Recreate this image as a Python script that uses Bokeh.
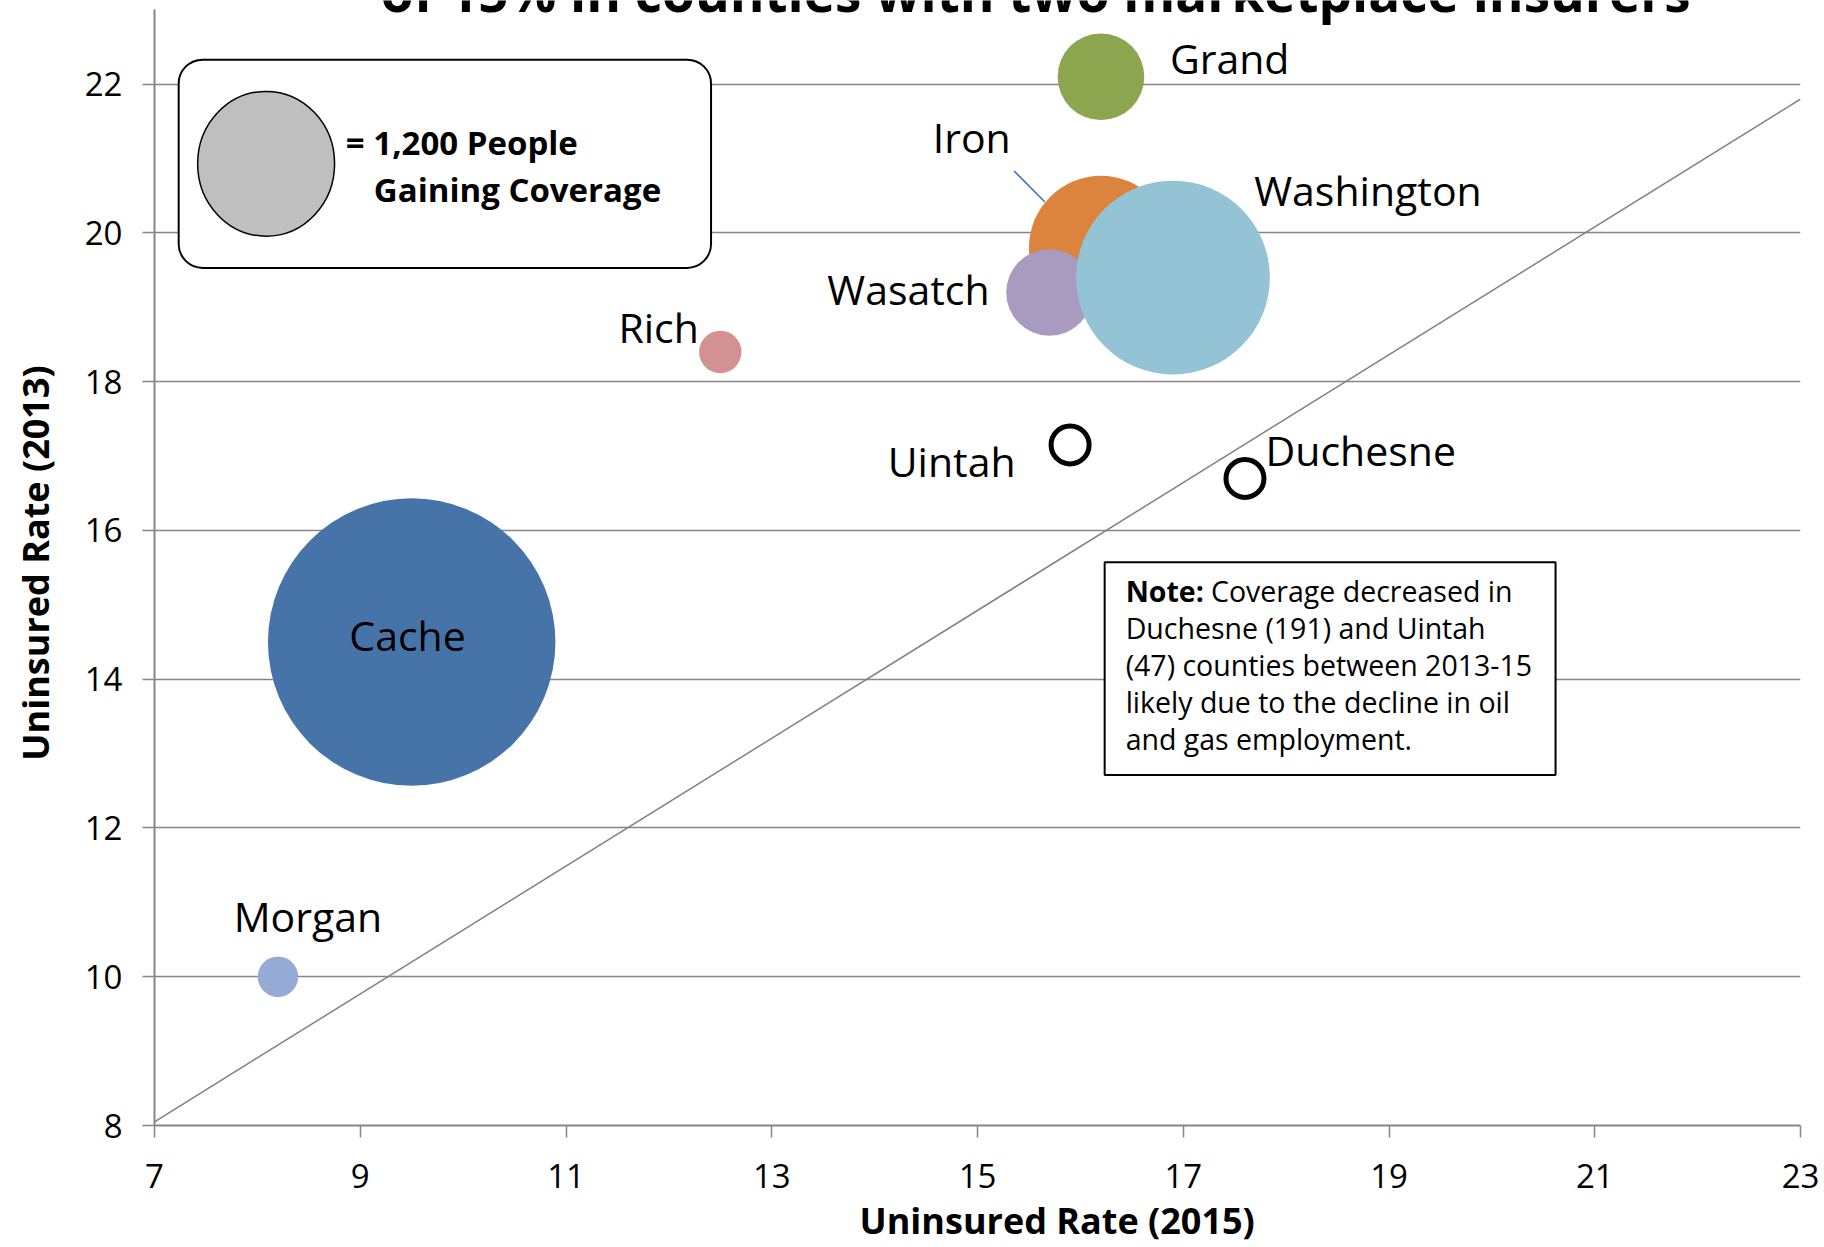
from bokeh.plotting import figure
from bokeh.models import ColumnDataSource, FixedTicker, BoxAnnotation, Label, Range1d, Title
from bokeh.core.properties import value
from bokeh.embed import file_html
from bokeh.resources import INLINE
import math

# ---------------- data ----------------
counties = ["Cache", "Morgan", "Rich", "Grand", "Iron", "Wasatch", "Washington"]
rate_2015 = [9.5, 8.2, 12.5, 16.2, 16.2, 15.7, 16.9]
rate_2013 = [14.5, 10.0, 18.4, 22.1, 19.8, 19.2, 19.4]
people_gained = [5060, 100, 110, 460, 1270, 460, 2300]
bubble_colors = ["#4674a8", "#95abd6", "#d49191", "#8ba64f", "#dc843e", "#a99bbf", "#93c3d4"]

decline_counties = ["Uintah", "Duchesne"]
decline_2015 = [15.9, 17.6]
decline_2013 = [17.15, 16.7]
decline_people = [47, 191]

# label anchor points
label_text = ["Cache", "Morgan", "Rich", "Grand", "Iron", "Wasatch", "Washington", "Uintah", "Duchesne"]
label_x = [9.46, 7.77, 11.51, 16.87, 14.565, 15.118, 17.69, 15.37, 17.80]
label_y = [14.38, 10.59, 18.52, 22.13, 21.076, 19.032, 20.36, 16.72, 16.86]
label_align = ["center", "left", "left", "left", "left", "right", "left", "right", "left"]

# reference line and Iron leader line
diag_x = [7.0, 23.0]
diag_y = [8.05, 21.8]
leader_x = [15.355, 15.653]
leader_y = [20.834, 20.418]

x_ticks = [7, 9, 11, 13, 15, 17, 19, 21, 23]
y_ticks = [8, 10, 12, 14, 16, 18, 20, 22]

title_text = "of 15% in counties with two marketplace insurers"
x_title = "Uninsured Rate (2015)"
y_title = "Uninsured Rate (2013)"
legend_lines = ["= 1,200 People", "Gaining Coverage"]
note_bold = "Note:"
note_lines = ["Coverage decreased in",
              "Duchesne (191) and Uintah",
              "(47) counties between 2013-15",
              "likely due to the decline in oil",
              "and gas employment."]

LEGEND_PEOPLE = 1200
LEGEND_RADIUS_PX = 70

FONT = "Open Sans"
PX_PER_Y = 74.53          # vertical pixels per data unit of the frame


def lift(font_px):
    """baseline correction (data units) for text drawn with an alphabetic baseline"""
    return 0.40 * font_px / PX_PER_Y


# ---------------- figure ----------------
p = figure(width=1824, height=1247, output_backend="svg", toolbar_location=None,
           x_range=Range1d(7, 23), y_range=Range1d(8, 23.125),
           min_border_left=154, min_border_right=24, min_border_top=0, min_border_bottom=120)
p.outline_line_color = None
p.background_fill_color = "white"
p.border_fill_color = "white"

for ax in (p.xaxis, p.yaxis):
    ax.axis_line_color = "#868686"
    ax.axis_line_width = 2
    ax.major_tick_line_color = "#868686"
    ax.major_tick_line_width = 1.5
    ax.major_tick_out = 12
    ax.major_tick_in = 0
    ax.minor_tick_line_color = None
    ax.major_label_text_font = FONT
    ax.major_label_text_font_size = "33px"
    ax.major_label_text_color = "#000000"
p.xaxis.ticker = FixedTicker(ticks=x_ticks)
p.yaxis.ticker = FixedTicker(ticks=y_ticks)
p.yaxis.bounds = (8, 23)
p.xaxis.major_label_standoff = 26
p.yaxis.major_label_standoff = 20
p.xgrid.visible = False
p.ygrid.ticker = FixedTicker(ticks=y_ticks)
p.ygrid.grid_line_color = "#868686"
p.ygrid.grid_line_width = 1.3

# axis titles
p.yaxis.axis_label = y_title
p.yaxis.axis_label_text_font = FONT
p.yaxis.axis_label_text_font_size = "36px"
p.yaxis.axis_label_text_font_style = "bold"
p.yaxis.axis_label_text_color = "#000000"
p.yaxis.axis_label_standoff = 22

p.add_layout(Title(text=x_title, align="left", offset=705, standoff=6,
                   text_font=FONT, text_font_size="36px", text_font_style="bold",
                   text_color="#000000"), "below")

# boxes (drawn over the grid, under the glyphs)
legend_box = BoxAnnotation(left=7.235, right=12.41, top=22.33, bottom=19.53,
                           fill_color="white", fill_alpha=1.0, line_color="black", line_alpha=1.0,
                           line_width=2, border_radius=24, level="underlay")
p.add_layout(legend_box)
note_box = BoxAnnotation(left=16.236, right=20.619, top=15.574, bottom=12.712,
                         fill_color="white", fill_alpha=1.0, line_color="black", line_alpha=1.0,
                         line_width=2, level="underlay")
p.add_layout(note_box)

# lines
p.line(diag_x, diag_y, line_color="#808080", line_width=1.5)
p.line(leader_x, leader_y, line_color="#3e6db5", line_width=1.5)

# bubbles
sizes = [2 * LEGEND_RADIUS_PX * math.sqrt(v / LEGEND_PEOPLE) for v in people_gained]
src = ColumnDataSource(dict(x=rate_2015, y=rate_2013, size=sizes, color=bubble_colors))
p.scatter("x", "y", size="size", fill_color="color", line_color=None, source=src)

# decline counties (hollow markers)
p.scatter(decline_2015, decline_2013, size=38, fill_color="white", line_color="black", line_width=5)

# legend bubble
p.ellipse(x=[8.085], y=[20.93], width=[1.331], height=[1.946],
          fill_color="#bfbfbf", line_color="black", line_width=1.5)

# county labels
LABEL_PX = 41
lsrc = ColumnDataSource(dict(x=label_x, y=[v + lift(LABEL_PX) for v in label_y],
                             text=label_text, align=label_align))
p.text("x", "y", text="text", text_align="align", source=lsrc,
       text_font=value(FONT), text_font_size=f"{LABEL_PX}px", text_color="black",
       text_baseline="alphabetic")

# legend text
LEG_PX = 33
p.add_layout(Label(x=8.86, y=21.045 + lift(LEG_PX), text=legend_lines[0], text_font=FONT,
                   text_color="black", text_font_size=f"{LEG_PX}px", text_font_style="bold",
                   text_baseline="alphabetic"))
p.add_layout(Label(x=9.132, y=20.405 + lift(LEG_PX), text=legend_lines[1], text_font=FONT,
                   text_color="black", text_font_size=f"{LEG_PX}px", text_font_style="bold",
                   text_baseline="alphabetic"))

# note text
NOTE_PX = 28.5
note_x = 16.44
note_y0 = 15.03 + lift(NOTE_PX)
note_dy = 0.4965
p.add_layout(Label(x=note_x, y=note_y0, text=note_bold, text_font=FONT, text_font_size=f"{NOTE_PX}px",
                   text_font_style="bold", text_color="black", text_baseline="alphabetic"))
p.add_layout(Label(x=17.27, y=note_y0, text=note_lines[0], text_font=FONT, text_font_size=f"{NOTE_PX}px",
                   text_color="black", text_baseline="alphabetic"))
for i, line in enumerate(note_lines[1:], start=1):
    p.add_layout(Label(x=note_x, y=note_y0 - i * note_dy, text=line, text_font=FONT,
                       text_color="black", text_font_size=f"{NOTE_PX}px", text_baseline="alphabetic"))

# chart title (cut off at the top edge, as in the source image)
TITLE_PX = 53
p.add_layout(Label(x=15.566, y=22.963 + lift(TITLE_PX), text=title_text, text_font=FONT,
                   text_font_size=f"{TITLE_PX}px", text_color="black", text_font_style="bold",
                   text_align="center", text_baseline="alphabetic"))

open("out.html", "w").write(file_html(p, INLINE))
